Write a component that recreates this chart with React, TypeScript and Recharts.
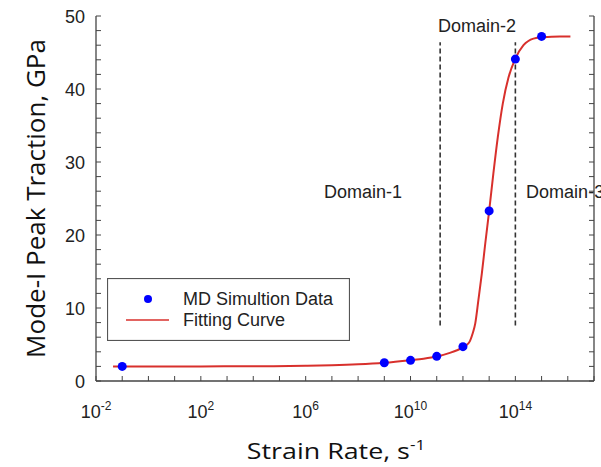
import React from "react"
import {
  ComposedChart,
  Line,
  Scatter,
  XAxis,
  YAxis,
  Legend,
  ReferenceLine,
  ReferenceDot,
} from "recharts"

// MD simulation points: strain rate exponent (10^n) and peak traction (GPa)
const mdExponents = [-1, 9, 10, 11, 12, 13, 14, 15]
const mdTraction = [2.0, 2.5, 2.83, 3.38, 4.7, 23.3, 44.1, 47.2]

// fitting curve
const fitExponents = [
  -1.35, 0, 2, 4, 6, 7, 8, 9, 10, 10.5, 11, 11.5, 11.8, 12, 12.15, 12.27, 12.37, 12.47, 12.59, 12.72,
  12.85, 13.0, 13.16, 13.33, 13.52, 13.74, 13.99, 14.31, 14.69, 15.07, 15.7, 16.1,
]
const fitTraction = [
  2.0, 2.0, 2.0, 2.02, 2.08, 2.15, 2.28, 2.5, 2.85, 3.05, 3.35, 3.85, 4.25, 4.6, 4.95, 5.5, 6.5, 7.9,
  11.1, 14.7, 18.8, 23.3, 28.4, 33.4, 38.0, 41.6, 44.1, 46.0, 46.9, 47.1, 47.2, 47.2,
]

const xTickExponents = [-2, -1, 0, 1, 2, 3, 4, 5, 6, 7, 8, 9, 10, 11, 12, 13, 14, 15, 16, 17]
const xLabelExponents = [-2, 2, 6, 10, 14]
const yTicks = [0, 2, 4, 6, 8, 10, 12, 14, 16, 18, 20, 22, 24, 26, 28, 30, 32, 34, 36, 38, 40, 42, 44, 46, 48, 50]
const yLabels = [0, 10, 20, 30, 40, 50]

const domainLineExponents = [11.13, 14]
const domainLineSpan = [7.6, 46.4]
const domainLabels = [
  { text: "Domain-1", exp: 8.19, y: 25.9, anchor: "middle" },
  { text: "Domain-2", exp: 12.54, y: 48.7, anchor: "middle" },
  { text: "Domain-3", exp: 14.41, y: 25.9, anchor: "start" },
]

const mdData = mdExponents.map((e, i) => ({ x: Math.pow(10, e), y: mdTraction[i] }))
const fitData = fitExponents.map((e, i) => ({ x: Math.pow(10, e), y: fitTraction[i] }))
const xTicks = xTickExponents.map((e) => Math.pow(10, e))

const AXIS = "#444"
const NUM_FONT = "'Liberation Sans', Arial, sans-serif"
const TITLE_FONT = "'Open Sans', sans-serif"
const TICK_LEN = 5

const expOf = (v: number) => Math.round(Math.log10(v))

const BottomTick = (props: any) => {
  const { x, y, payload } = props
  const e = expOf(payload.value)
  return (
    <g>
      <line x1={x} x2={x} y1={y} y2={y - TICK_LEN} stroke={AXIS} strokeWidth={1} />
      {xLabelExponents.includes(e) && (
        <text x={x} y={y + 37} textAnchor="middle" fontFamily={NUM_FONT} fontSize={18} fill="#222">
          <tspan>10</tspan>
          <tspan dy={-8} fontSize={12}>
            {e}
          </tspan>
        </text>
      )}
    </g>
  )
}

const TopTick = (props: any) => {
  const { x, y } = props
  return <line x1={x} x2={x} y1={y} y2={y + TICK_LEN} stroke={AXIS} strokeWidth={1} />
}

const LeftTick = (props: any) => {
  const { x, y, payload } = props
  return (
    <g>
      <line x1={x} x2={x + TICK_LEN} y1={y} y2={y} stroke={AXIS} strokeWidth={1} />
      {yLabels.includes(payload.value) && (
        <text x={x - 11} y={y + 6.5} textAnchor="end" fontFamily={NUM_FONT} fontSize={18} fill="#222">
          {payload.value}
        </text>
      )}
    </g>
  )
}

const RightTick = (props: any) => {
  const { x, y } = props
  return <line x1={x} x2={x - TICK_LEN} y1={y} y2={y} stroke={AXIS} strokeWidth={1} />
}

const LegendBox = (props: any) => {
  const items = props.payload || []
  return (
    <svg width={243} height={63} style={{ display: "block" }}>
      <rect x={0.5} y={0.5} width={242} height={62} fill="#fff" stroke="#555" strokeWidth={1.2} />
      {items.map((item: any, i: number) => {
        const cy = i === 0 ? 21 : 42
        return (
          <g key={item.value}>
            {item.type === "circle" ? (
              <circle cx={41} cy={cy} r={4} fill={item.color} />
            ) : (
              <line x1={19} x2={62} y1={cy} y2={cy} stroke={item.color} strokeWidth={1.5} />
            )}
            <text x={76} y={cy + 6} fontFamily={NUM_FONT} fontSize={18} fill="#222">
              {item.value}
            </text>
          </g>
        )
      })}
    </svg>
  )
}

export default function App() {
  return (
    <div style={{ position: "absolute", left: 0, top: 0, background: "#fff" }}>
      <ComposedChart width={601} height={467} margin={{ top: 16, right: 0, bottom: 0, left: 0 }}>
        <XAxis
          xAxisId="bottom"
          dataKey="x"
          type="number"
          scale="log"
          domain={[1e-2, 1e17]}
          allowDataOverflow
          ticks={xTicks}
          interval={0}
          tickLine={false}
          tickSize={0}
          tickMargin={0}
          tick={(p: any) => <BottomTick {...p} />}
          height={86}
          axisLine={{ stroke: AXIS, strokeWidth: 1.3 }}
          label={(p: any) => {
            const vb = p.viewBox
            const cx = vb.x + vb.width / 2 - 9
            const by = vb.y + 78
            return (
              <text
                transform={`translate(${cx}, ${by}) scale(1.22, 1)`}
                x={0}
                y={0}
                textAnchor="middle"
                fontFamily={TITLE_FONT}
                fontSize={22}
                fill="#111"
              >
                <tspan>Strain Rate, s</tspan>
                <tspan dy={-9} fontSize={14}>
                  -1
                </tspan>
              </text>
            )
          }}
        />
        <XAxis
          xAxisId="top"
          orientation="top"
          dataKey="x"
          type="number"
          scale="log"
          domain={[1e-2, 1e17]}
          allowDataOverflow
          ticks={xTicks}
          interval={0}
          tickLine={false}
          tickSize={0}
          tickMargin={0}
          tick={(p: any) => <TopTick {...p} />}
          height={0}
          axisLine={{ stroke: AXIS, strokeWidth: 1.3 }}
        />
        <YAxis
          yAxisId="left"
          dataKey="y"
          type="number"
          domain={[0, 50]}
          allowDataOverflow
          ticks={yTicks}
          interval={0}
          tickLine={false}
          tickSize={0}
          tickMargin={0}
          tick={(p: any) => <LeftTick {...p} />}
          width={96}
          axisLine={{ stroke: AXIS, strokeWidth: 1.3 }}
          label={(p: any) => {
            const vb = p.viewBox
            const cy = vb.y + vb.height / 2
            return (
              <text
                x={45}
                y={cy}
                transform={`rotate(-90, 45, ${cy})`}
                textAnchor="middle"
                fontFamily={TITLE_FONT}
                fontSize={26}
                fill="#111"
              >
                Mode-I Peak Traction, GPa
              </text>
            )
          }}
        />
        <YAxis
          yAxisId="right"
          orientation="right"
          type="number"
          domain={[0, 50]}
          allowDataOverflow
          ticks={yTicks}
          interval={0}
          tickLine={false}
          tickSize={0}
          tickMargin={0}
          tick={(p: any) => <RightTick {...p} />}
          width={7}
          axisLine={{ stroke: AXIS, strokeWidth: 1.3 }}
        />
        {domainLineExponents.map((e) => (
          <ReferenceLine
            key={e}
            xAxisId="bottom"
            yAxisId="left"
            segment={[
              { x: Math.pow(10, e), y: domainLineSpan[0] },
              { x: Math.pow(10, e), y: domainLineSpan[1] },
            ]}
            stroke="#333"
            strokeWidth={1.6}
            strokeDasharray="5 3"
          />
        ))}
        {domainLabels.map((d) => (
          <ReferenceDot
            key={d.text}
            xAxisId="bottom"
            yAxisId="left"
            x={Math.pow(10, d.exp)}
            y={d.y}
            r={1}
            fill="none"
            stroke="none"
            label={(p: any) => (
              <text
                x={p.viewBox.x + 1}
                y={p.viewBox.y + 1}
                dy={6.5}
                textAnchor={d.anchor}
                fontFamily={NUM_FONT}
                fontSize={18}
                fill="#222"
              >
                {d.text}
              </text>
            )}
          />
        ))}
        <Line
          xAxisId="bottom"
          yAxisId="left"
          name="Fitting Curve"
          data={fitData}
          dataKey="y"
          type="monotone"
          stroke="#d8302c"
          strokeWidth={2}
          dot={false}
          legendType="line"
          isAnimationActive={false}
        />
        <Scatter
          xAxisId="bottom"
          yAxisId="left"
          name="MD Simultion Data"
          data={mdData}
          dataKey="y"
          fill="#0000ff"
          shape={(p: any) => <circle cx={p.cx} cy={p.cy} r={4.5} fill="#0000ff" />}
          legendType="circle"
          isAnimationActive={false}
        />
        <Legend
          layout="vertical"
          align="center"
          verticalAlign="middle"
          itemSorter={(item: any) => (item.type === "circle" ? 0 : 1)}
          content={(p: any) => <LegendBox {...p} />}
          wrapperStyle={{ position: "absolute", left: 107, top: 278, width: 243, height: 63 }}
        />
      </ComposedChart>
    </div>
  )
}
